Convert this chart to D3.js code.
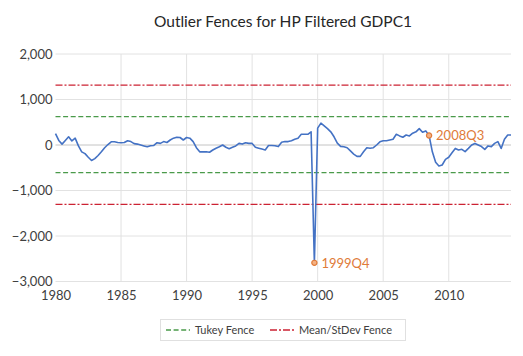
<!DOCTYPE html>
<html>
<head>
<meta charset="utf-8">
<script src="https://cdn.jsdelivr.net/npm/d3@7"></script>
<style>
  html, body { margin: 0; padding: 0; background: #fff; }
  svg { display: block; }
  text { font-family: Lato, "Open Sans", "Liberation Sans", sans-serif; }
</style>
</head>
<body>
<svg id="chart" width="523" height="356"></svg>
<script>
// ---- data ----
const startYear = 1980; // first quarter 1980Q1
const gdpCycle = [
  250, 100, 20, 100, 180, 90, 150, -20,
  -150, -190, -270, -340, -300, -230, -150, -60,
  10, 70, 70, 55, 50, 55, 95, 75,
  30, 20, 0, -20, -40, -15, -10, 50,
  35, 75, 55, 110, 150, 170, 165, 110,
  165, 150, 75, -60, -150, -150, -150, -160,
  -110, -70, -40, 0, -50, -80, -50, -20,
  35, 20, 50, 35, 35, -50, -70, -90,
  -110, -10, -10, -15, -35, 60, 75, 75,
  95, 125, 150, 235, 235, 235, 290, -2590,
  370, 480, 420, 360, 290, 180, 40, -30,
  -40, -60, -130, -200, -250, -250, -150, -60,
  -70, -60, 0, 70, 95, 95, 110, 125,
  235, 200, 170, 220, 200, 260, 290, 360,
  280, 310, 210, -150, -380, -460, -440, -315,
  -270, -170, -75, -110, -95, -145, -75, 0,
  35, 0, -35, -95, -20, -35, 35, 75,
  -75, 125, 220, 220
];
const tukeyFence = [625, -605];
const meanStdFence = [1315, -1305];
const outliers = [
  { label: "1999Q4", index: 79 },
  { label: "2008Q3", index: 114 }
];
const yTicks = [2000, 1000, 0, -1000, -2000, -3000];
const xTicks = [1980, 1985, 1990, 1995, 2000, 2005, 2010];
const title = "Outlier Fences for HP Filtered GDPC1";
const legendItems = ["Tukey Fence", "Mean/StDev Fence"];

// ---- drawing ----
const svg = d3.select("#chart");
const mLeft = 55.5, mRight = 511, mTop = 54, mBottom = 281.5;
const timeOf = i => startYear + i / 4;

const x = d3.scaleLinear().domain([startYear, timeOf(gdpCycle.length - 1)]).range([mLeft, mRight]);
const y = d3.scaleLinear().domain([-3000, 2000]).range([mBottom, mTop]);

svg.append("text")
  .attr("x", 283).attr("y", 27)
  .attr("text-anchor", "middle")
  .attr("font-size", 15.5)
  .attr("fill", "#262626")
  .text(title);

// horizontal gridlines
svg.append("g").selectAll("line").data(yTicks).join("line")
  .attr("x1", mLeft).attr("x2", mRight)
  .attr("y1", d => y(d)).attr("y2", d => y(d))
  .attr("stroke", d => d === 0 ? "#c4c4c4" : "#e2e2e2")
  .attr("stroke-width", 1);

// vertical gridlines
svg.append("g").selectAll("line").data(xTicks.filter(d => d > startYear)).join("line")
  .attr("x1", d => x(d)).attr("x2", d => x(d))
  .attr("y1", mTop).attr("y2", mBottom)
  .attr("stroke", "#e2e2e2")
  .attr("stroke-width", 1);

// y axis labels
const yAxis = d3.axisLeft(y).tickValues(yTicks).tickFormat(d3.format(",")).tickSize(0).tickPadding(0);
const gy = svg.append("g").attr("transform", `translate(${mLeft - 3},0)`).call(yAxis);
gy.select(".domain").remove();
gy.selectAll("text").attr("font-size", 13).attr("fill", "#404040")
  .attr("font-family", "Lato, 'Open Sans', sans-serif");

// x axis labels
const xAxis = d3.axisBottom(x).tickValues(xTicks).tickFormat(d3.format("d")).tickSize(0).tickPadding(0);
const gx = svg.append("g").attr("transform", `translate(0,${mBottom + 9})`).call(xAxis);
gx.select(".domain").remove();
gx.selectAll("text").attr("font-size", 13).attr("fill", "#404040")
  .attr("font-family", "Lato, 'Open Sans', sans-serif");

// fences
const green = "#4a9a4a", red = "#cc2233";
svg.append("g").selectAll("line").data(tukeyFence).join("line")
  .attr("x1", mLeft).attr("x2", mRight)
  .attr("y1", d => y(d)).attr("y2", d => y(d))
  .attr("stroke", green).attr("stroke-width", 1.3)
  .attr("stroke-dasharray", "5,2.6");
svg.append("g").selectAll("line").data(meanStdFence).join("line")
  .attr("x1", mLeft).attr("x2", mRight)
  .attr("y1", d => y(d)).attr("y2", d => y(d))
  .attr("stroke", red).attr("stroke-width", 1.3)
  .attr("stroke-dasharray", "7,2,2,2");

// series line
const line = d3.line().x((d, i) => x(timeOf(i))).y(d => y(d));
svg.append("path").datum(gdpCycle)
  .attr("d", line)
  .attr("fill", "none")
  .attr("stroke", "#4472c4")
  .attr("stroke-width", 1.6)
  .attr("stroke-linejoin", "round");

// outlier markers and labels
const orange = "#e07b39";
const og = svg.append("g").selectAll("g").data(outliers).join("g")
  .attr("transform", d => `translate(${x(timeOf(d.index))},${y(gdpCycle[d.index])})`);
og.append("circle").attr("r", 2.6)
  .attr("fill", "#f4b183").attr("stroke", orange).attr("stroke-width", 1.2);
og.append("text").attr("x", 7).attr("y", 5)
  .attr("font-size", 13).attr("fill", orange)
  .text(d => d.label);

// legend
const lg = svg.append("g");
lg.append("rect").attr("x", 160.5).attr("y", 319.5).attr("width", 245).attr("height", 21)
  .attr("fill", "#fff").attr("stroke", "#e0e0e0");
lg.append("line").attr("x1", 166).attr("x2", 190).attr("y1", 330).attr("y2", 330)
  .attr("stroke", green).attr("stroke-width", 1.3).attr("stroke-dasharray", "5,2.6");
lg.append("text").attr("x", 195).attr("y", 334).attr("font-size", 11).attr("fill", "#404040").text(legendItems[0]);
lg.append("line").attr("x1", 270).attr("x2", 294).attr("y1", 330).attr("y2", 330)
  .attr("stroke", red).attr("stroke-width", 1.3).attr("stroke-dasharray", "7,2,2,2");
lg.append("text").attr("x", 299).attr("y", 334).attr("font-size", 11).attr("fill", "#404040").text(legendItems[1]);
</script>
</body>
</html>
